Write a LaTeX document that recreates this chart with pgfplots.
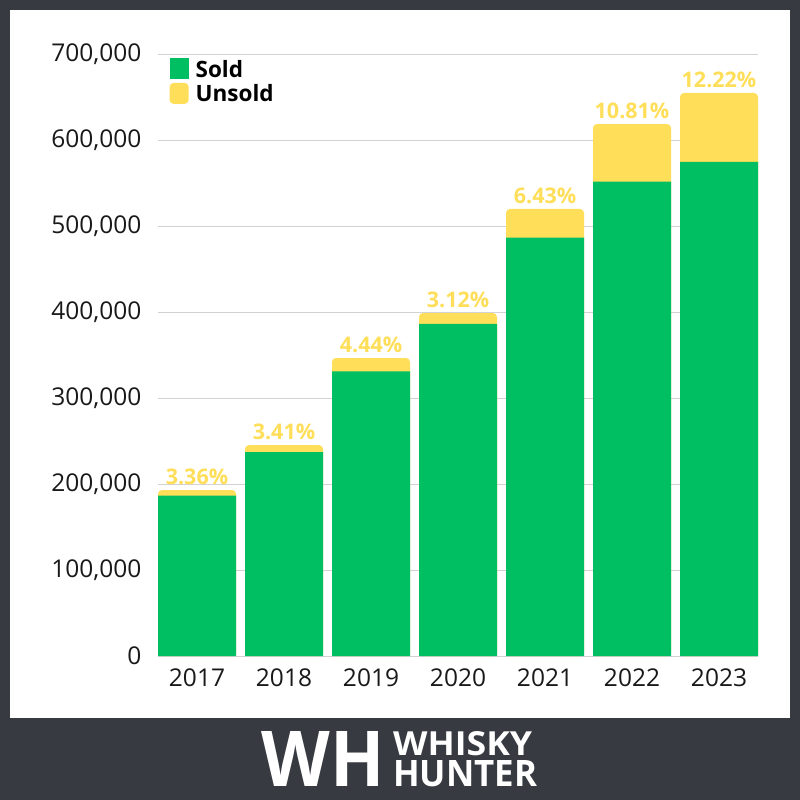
\documentclass[border=0pt]{standalone}
\usepackage{fontspec}
\setmainfont{Open Sans}
\usepackage{pgfplots}
\pgfplotsset{compat=1.18}
\definecolor{sold}{HTML}{00BF63}
\definecolor{unsold}{HTML}{FFDE59}
\definecolor{frame}{HTML}{373B41}

\begin{document}
\begin{tikzpicture}
\useasboundingbox (0,0) rectangle (800pt,-800pt);
\fill[frame] (0,0) rectangle (800pt,-800pt);
\fill[white] (10pt,-10pt) rectangle (790pt,-718pt);
\begin{axis}[
  at={(158pt,-656pt)}, anchor=south west,
  scale only axis, width=600pt, height=602pt,
  ybar, bar width=78pt,
  xmin=-0.4483, xmax=6.4483, ymin=0, ymax=700000,
  xtick={0,1,2,3,4,5,6},
  xticklabels={2017,2018,2019,2020,2021,2022,2023},
  ytick={0,100000,200000,300000,400000,500000,600000,700000},
  scaled y ticks=false,
  /pgf/number format/fixed,
  /pgf/number format/1000 sep={,},
  /pgf/number format/assume math mode=true,
  ticklabel style={font=\fontsize{24.5}{24.5}\selectfont, text=black!90},
  yticklabel style={xshift=-13pt},
  xticklabel style={yshift=-9pt},
  axis line style={draw=none},
  major tick length=0pt,
  ymajorgrids, grid style={draw=gray!35, line width=1pt},
  clip=false,
  reverse legend,
  legend style={at={(0.014,0.997)}, anchor=north west, draw=none, fill=none,
    font=\bfseries\fontsize{22.5}{26}\selectfont, cells={anchor=west}, row sep=2pt,
    /tikz/every odd column/.append style={column sep=5pt}},
]
% totals (sold + unsold), drawn first so the rounded top shows
\addplot[fill=unsold, draw=none, bar shift=0pt, rounded corners=4pt,
  point meta=explicit symbolic,
  nodes near coords={\pgfplotspointmeta\%},
  nodes near coords style={font=\bfseries\fontsize{21.5}{21.5}\selectfont, text=unsold, anchor=south, inner sep=5pt},
  legend image code/.code={\fill[unsold] (0pt,-10pt) rectangle (19pt,11pt);}]
coordinates {
  (0,193000) [3.36]
  (1,245300) [3.41]
  (2,346500) [4.44]
  (3,398800) [3.12]
  (4,519800) [6.43]
  (5,618600) [10.81]
  (6,654700) [12.22]
};
\addlegendentry{Unsold}
% sold
\addplot[fill=sold, draw=none, bar shift=0pt,
  legend image code/.code={\fill[sold] (0pt,-10pt) rectangle (19pt,11pt);}]
coordinates {
  (0,186500)
  (1,237000)
  (2,331100)
  (3,386300)
  (4,486400)
  (5,551700)
  (6,574700)
};
\addlegendentry{Sold}
\end{axis}
\node[anchor=center, inner sep=0pt, text=white] at (323pt,-759pt)
  {\resizebox{123pt}{55pt}{\bfseries WH}};
\node[anchor=west, inner sep=0pt, text=white] at (393pt,-744pt)
  {\resizebox{139pt}{24pt}{\bfseries WHISKY}};
\node[anchor=west, inner sep=0pt, text=white] at (393pt,-774pt)
  {\resizebox{144pt}{26pt}{\bfseries HUNTER}};
\end{tikzpicture}
\end{document}
